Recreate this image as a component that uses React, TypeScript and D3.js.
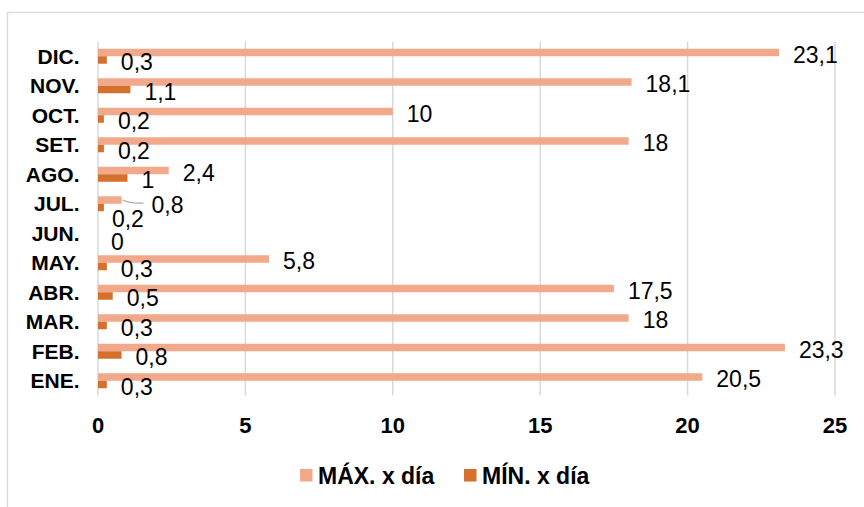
import React from "react";
import * as d3 from "d3";

const months = ["DIC.", "NOV.", "OCT.", "SET.", "AGO.", "JUL.", "JUN.", "MAY.", "ABR.", "MAR.", "FEB.", "ENE."];
const maxPerDay = [23.1, 18.1, 10, 18, 2.4, 0.8, 0, 5.8, 17.5, 18, 23.3, 20.5];
const minPerDay = [0.3, 1.1, 0.2, 0.2, 1, 0.2, 0, 0.3, 0.5, 0.3, 0.8, 0.3];
const xTicks = [0, 5, 10, 15, 20, 25];
const seriesNames = ["MÁX. x día", "MÍN. x día"];

const W = 864;
const H = 507;
const COLORS = ["#F2A98B", "#D5702D"];
const FONT = "'Liberation Sans', Arial, sans-serif";

// manual label nudges (as in the source chart)
const nudges: Record<string, { dx: number; dy: number; hide?: boolean; leader?: boolean }> = {
  "0-5": { dx: 16, dy: 3, leader: true },
  "1-5": { dx: -6, dy: 9 },
  "0-6": { dx: 0, dy: 0, hide: true },
  "1-6": { dx: -1, dy: 3 },
};

export default function App() {
  const x = d3.scaleLinear().domain([0, 25]).range([98, 835]);
  const y = d3.scaleBand<string>().domain(months).range([41.5, 395.5]).paddingInner(0).paddingOuter(0);
  const barH = 7.5;
  const bw = y.bandwidth();

  const series = [maxPerDay, minPerDay];

  return (
    <svg
      width={W}
      height={H}
      style={{ position: "absolute", left: 0, top: 0, background: "#fff" }}
      fontFamily={FONT}
    >
      <rect x={7.5} y={12.5} width={1000} height={1000} fill="#fff" stroke="#d9d9d9" strokeWidth={1.3} />
      {xTicks.map((t) => (
        <line key={t} x1={x(t)} x2={x(t)} y1={41.5} y2={395.5} stroke="#d9d9d9" strokeWidth={1.5} />
      ))}
      {months.map((m, i) => {
        const c = (y(m) as number) + bw / 2;
        return (
          <g key={m}>
            {series.map((s, si) => {
              const top = c - barH + si * barH;
              return (
                <rect key={si} x={x(0)} y={top} width={Math.max(0, x(s[i]) - x(0))} height={barH} fill={COLORS[si]} />
              );
            })}
            <text x={79.5} y={c} textAnchor="end" dominantBaseline="central" fontWeight="bold" fontSize={21} fill="#000">
              {m}
            </text>
          </g>
        );
      })}
      {months.map((m, i) => {
        const c = (y(m) as number) + bw / 2;
        return series.map((s, si) => {
          const n = nudges[`${si}-${i}`] || { dx: 0, dy: 0 };
          if (n.hide) return null;
          const bc = c - barH / 2 + si * barH;
          const lx = x(s[i]) + 14 + n.dx;
          const ly = bc + 2 + n.dy;
          const label = String(s[i]).replace(".", ",");
          return (
            <g key={`${m}-${si}`}>
              {n.leader && (
                <path
                  d={`M${x(s[i]) + 1},${bc} Q${x(s[i]) + 10},${bc + 4} ${lx - 8},${bc + 3}`}
                  fill="none"
                  stroke="#a6a6a6"
                  strokeWidth={1.2}
                />
              )}
              <text x={lx} y={ly} dominantBaseline="central" fontSize={23} fill="#000">
                {label}
              </text>
            </g>
          );
        });
      })}
      {xTicks.map((t) => (
        <text key={t} x={x(t)} y={425} textAnchor="middle" dominantBaseline="central" fontWeight="bold" fontSize={22} fill="#000">
          {t}
        </text>
      ))}
      {seriesNames.map((name, si) => {
        const lx = [300, 464][si];
        return (
          <g key={name}>
            <rect x={lx} y={469} width={12.5} height={12.5} fill={COLORS[si]} />
            <text x={lx + 18} y={476} dominantBaseline="central" fontWeight="bold" fontSize={23} fill="#000">
              {name}
            </text>
          </g>
        );
      })}
    </svg>
  );
}
